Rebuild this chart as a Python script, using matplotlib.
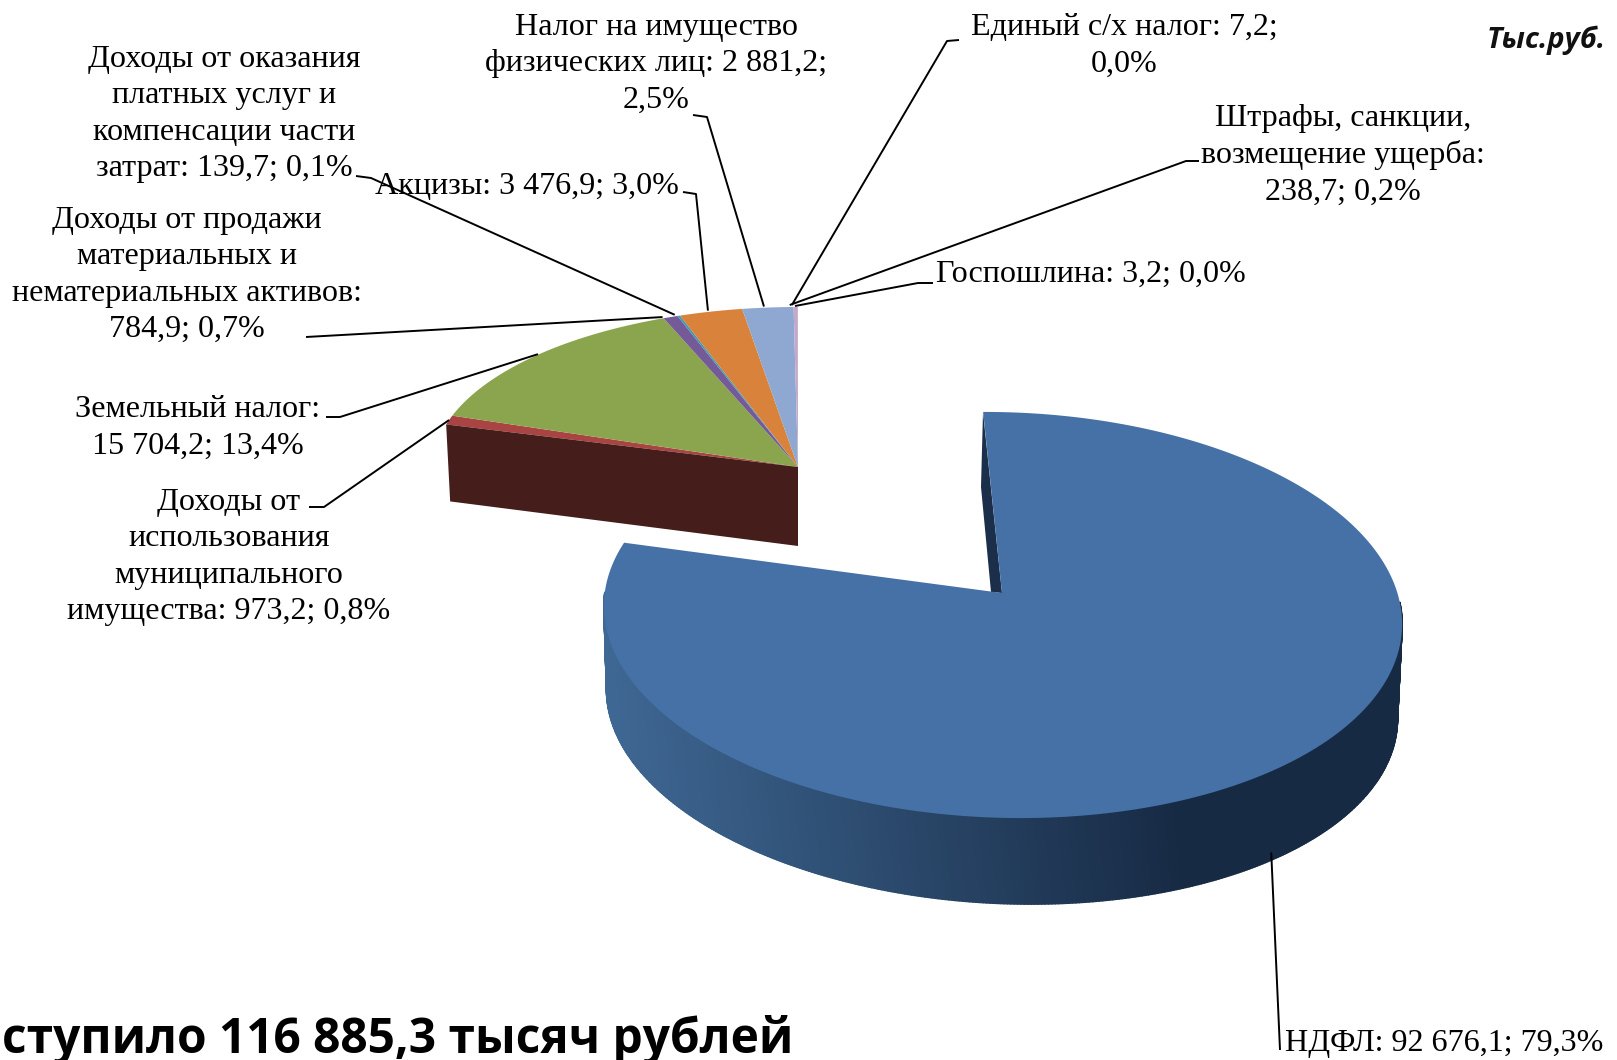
import numpy as np
import matplotlib
matplotlib.use('Agg')
import matplotlib.pyplot as plt
from matplotlib.collections import PolyCollection
from matplotlib.colors import to_rgb

# values, clockwise from the top of the pie
names = ['НДФЛ', 'Доходы от использования', 'Земельный налог', 'Доходы от продажи',
         'Доходы от оказания', 'Акцизы', 'Налог на имущество', 'Штрафы',
         'Единый с/х налог', 'Госпошлина']
values = [92676.1, 973.2, 15704.2, 784.9, 139.7, 3476.9, 2881.2, 238.7, 7.2, 3.2]
labels = ['НДФЛ: 92 676,1; 79,3%',
          'Доходы от\nиспользования\nмуниципального\nимущества: 973,2; 0,8%',
          'Земельный налог:\n15 704,2; 13,4%',
          'Доходы от продажи\nматериальных и\nнематериальных активов:\n784,9; 0,7%',
          'Доходы от оказания\nплатных услуг и\nкомпенсации части\nзатрат: 139,7; 0,1%',
          'Акцизы: 3 476,9; 3,0%',
          'Налог на имущество\nфизических лиц: 2 881,2;\n2,5%',
          'Штрафы, санкции,\nвозмещение ущерба:\n238,7; 0,2%',
          'Единый с/х налог: 7,2;\n0,0%',
          'Госпошлина: 3,2; 0,0%']
colors = ['#4571a6', '#a94442', '#8aa54e', '#745a96', '#3f9bb3', '#d9823b',
          '#8fa8d1', '#c4a8cc', '#b0c0dc', '#d0a0a0']
unit_text = 'Тыс.руб.'
title_text = 'ступило 116 885,3 тысяч рублей'

# layout in pixels of the picture
text_pos = [(1285, 1043), (229, 557), (198, 428), (187, 275), (224, 114), (527, 186),
            (656, 64), (1343, 155), (1124, 46), (936, 274)]
text_ha = ['left', 'center', 'center', 'center', 'center', 'center',
           'center', 'center', 'center', 'left']
elbows = [[(1280, 1050)], [(309, 507), (324, 507)], [(326, 417), (340, 417)], [(306, 337)],
          [(356, 176), (371, 178)], [(683, 192), (696, 194)], [(693, 115), (707, 117)],
          [(1199, 161), (1186, 161)], [(959, 40), (947, 41)], [(933, 283), (918, 283)]]
end_shift = [(21, -16), (0, 0), (1, -1), (-8, 0), (-4, -1), (-3, -1), (-4, -1), (-6, -2), (-6, -2), (-3, -1)]

total = sum(values)
fracs = np.array(values) / total
starts = np.concatenate([[0], np.cumsum(fracs)[:-1]])


def arc(c, a0, a1, n=200):
    cx, cy, rx, ry, shear, tilt = c
    t = np.radians(np.linspace(a0, a1, n))
    return np.column_stack([cx + rx*np.sin(t) - shear*np.cos(t),
                            cy - ry*np.cos(t) + tilt*np.sin(t)])


def squeeze(a):
    # the back of the pie looks narrower, small slices bunch up there
    return a*(0.9 + 0.1*a/74.5)


fig = plt.figure(figsize=(16.17, 10.6), dpi=100)
ax = fig.add_axes([0, 0, 1, 1])
ax.set_xlim(0, 1617)
ax.set_ylim(1060, 0)
ax.axis('off')

# big slice: the perspective stretches its arc a bit
stretch = 1.02
big_a0 = -1.7
big_a1 = big_a0 + fracs[0]*360*stretch
big_c = (1003, 615, 399, 203, 8, 5)
low_c = (1002, 704, 395, 200, 19, 5)

# side of the big slice, strips shaded left to right
steps = np.linspace(85, 275, 381)
quads = []
shades = []
dark = np.array(to_rgb('#172a44'))
light = np.array(to_rgb('#3f6894'))
for a, b in zip(steps[:-1], steps[1:]):
    top = arc(big_c, a, b, 3)
    low = arc(low_c, b, a, 3)
    quads.append(np.vstack([top, low]))
    x = (top[0, 0] - 602) / 802
    k = min(1, max(0, x/0.72))
    shades.append(light*(1-k) + dark*k)
ax.add_collection(PolyCollection(quads, facecolors=shades, edgecolors=shades, linewidths=1.2, zorder=1))

# inner cut of the big slice
ax.fill([983, 981, 991, 1002], [412, 487, 592, 593], color='#1b2f4b', zorder=2, lw=0)
big_arc = arc(big_c, big_a0, big_a1, 400)
big_apex = (1002, 593)
ax.fill(np.r_[big_apex[0], big_arc[:, 0]], np.r_[big_apex[1], big_arc[:, 1]],
        color=colors[0], lw=0, zorder=3)

# small slices: one block pulled out of the pie, going back from the top
small_c = (798, 467, 365, 160, 0, 0)
mid_pts = []
big_mid = big_a0 + (big_a1-big_a0)/2
mid_pts.append(arc(low_c, big_mid, big_mid, 1)[0])
for i in range(1, len(values)):
    a1 = squeeze((1 - starts[i])*360)
    a0 = squeeze((1 - starts[i] - fracs[i])*360)
    pts = arc(small_c, -a1, -a0, 40)
    ax.fill(np.r_[small_c[0], pts[:, 0]], np.r_[small_c[1], pts[:, 1]],
            color=colors[i], lw=0, zorder=4)
    mid = squeeze((1 - starts[i] - fracs[i]/2)*360)
    mid_pts.append(arc(small_c, -mid, -mid, 1)[0])

cut_a = squeeze(fracs[1:].sum()*360)
cut = arc(small_c, -cut_a, -cut_a, 1)[0]
ax.fill([small_c[0], cut[0], cut[0]+4, small_c[0]],
        [small_c[1], cut[1], cut[1]+77, small_c[1]+79],
        color='#451d1a', lw=0, zorder=4)

# leader lines
for el, mp, sh in zip(elbows, mid_pts, end_shift):
    xs = [p[0] for p in el] + [mp[0]+sh[0]]
    ys = [p[1] for p in el] + [mp[1]+sh[1]]
    ax.plot(xs, ys, color='black', lw=1.4, zorder=5, solid_capstyle='butt')

for lab, pos, ha in zip(labels, text_pos, text_ha):
    ax.text(pos[0], pos[1], lab, ha=ha, va='center', multialignment='center',
            family='Liberation Serif', fontsize=23.1, linespacing=1.33, color='black', zorder=6)

ax.text(1606, 40, unit_text, ha='right', va='center', family='Open Sans', fontsize=21,
        fontweight='bold', fontstyle='italic', color='#111111', zorder=6)
ax.text(2, 1040, title_text, ha='left', va='center', family='Open Sans', fontsize=34.5,
        fontweight='bold', color='black', zorder=6)

fig.savefig('out.png', dpi=100, facecolor='white')
